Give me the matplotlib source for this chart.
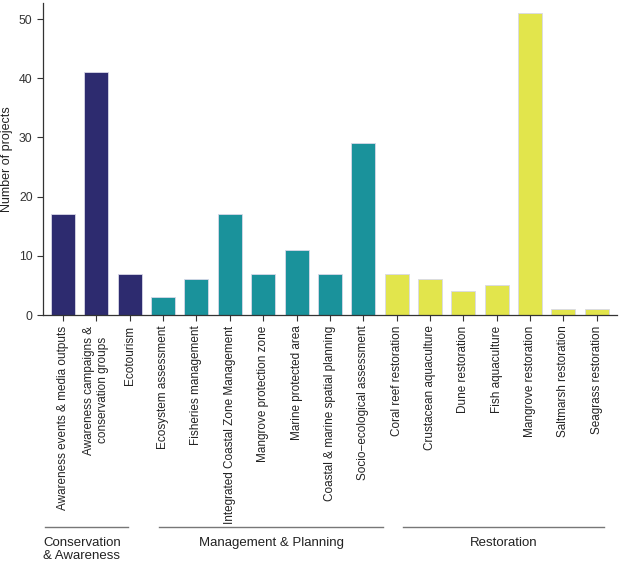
import matplotlib.pyplot as plt

plt.rcParams['font.family'] = ['Liberation Sans', 'DejaVu Sans']

categories = ['Awareness events & media outputs', 'Awareness campaigns &\nconservation groups',
              'Ecotourism', 'Ecosystem assessment', 'Fisheries management',
              'Integrated Coastal Zone Management', 'Mangrove protection zone',
              'Marine protected area', 'Coastal & marine spatial planning',
              'Socio\u2212ecological assessment', 'Coral reef restoration',
              'Crustacean aquaculture', 'Dune restoration', 'Fish aquaculture',
              'Mangrove restoration', 'Saltmarsh restoration', 'Seagrass restoration']
values = [17, 41, 7, 3, 6, 17, 7, 11, 7, 29, 7, 6, 4, 5, 51, 1, 1]
groups = ['Conservation'] * 3 + ['Management'] * 7 + ['Restoration'] * 7
group_colors = {'Conservation': '#2d2b6f', 'Management': '#1a929b', 'Restoration': '#e2e54c'}

fig = plt.figure(figsize=(6.19, 5.62), dpi=100)
ax = fig.add_axes([0.0695, 0.4395, 0.927, 0.555])

x = range(len(categories))
ax.bar(x, values, width=0.72, color=[group_colors[g] for g in groups],
       edgecolor='#d8d8e8', linewidth=0.6)

ax.set_xlim(-0.6, 16.6)
ax.set_ylim(0, 52.7)
ax.set_yticks([0, 10, 20, 30, 40, 50])
ax.set_xticks(list(x))
ax.set_xticklabels(categories, rotation=90, va='top', ha='center', fontsize=8.5, color='#222222')
ax.tick_params(axis='y', labelsize=8.8, labelcolor='#333333', length=4, color='#333333')
ax.tick_params(axis='x', length=4, color='#333333')
ax.set_ylabel('Number of projects', fontsize=9, color='#222222')
for s in ['top', 'right']:
    ax.spines[s].set_visible(False)
for s in ['left', 'bottom']:
    ax.spines[s].set_color('#333333')
    ax.spines[s].set_linewidth(0.9)

trans = ax.get_xaxis_transform()
line_y = -0.679
spans = [(-0.54, 1.95), (2.87, 9.58), (10.18, 16.23)]
for a, b in spans:
    ax.plot([a, b], [line_y, line_y], color='#777777', lw=1, transform=trans, clip_on=False)
ax.text(-0.6, -0.712, 'Conservation\n& Awareness', transform=trans, ha='left', va='top',
        fontsize=9.5, color='#222222', linespacing=1.15)
ax.text(6.24, -0.712, 'Management & Planning', transform=trans, ha='center', va='top',
        fontsize=9.5, color='#222222')
ax.text(13.2, -0.712, 'Restoration', transform=trans, ha='center', va='top',
        fontsize=9.5, color='#222222')

fig.savefig('out.png', dpi=100)
